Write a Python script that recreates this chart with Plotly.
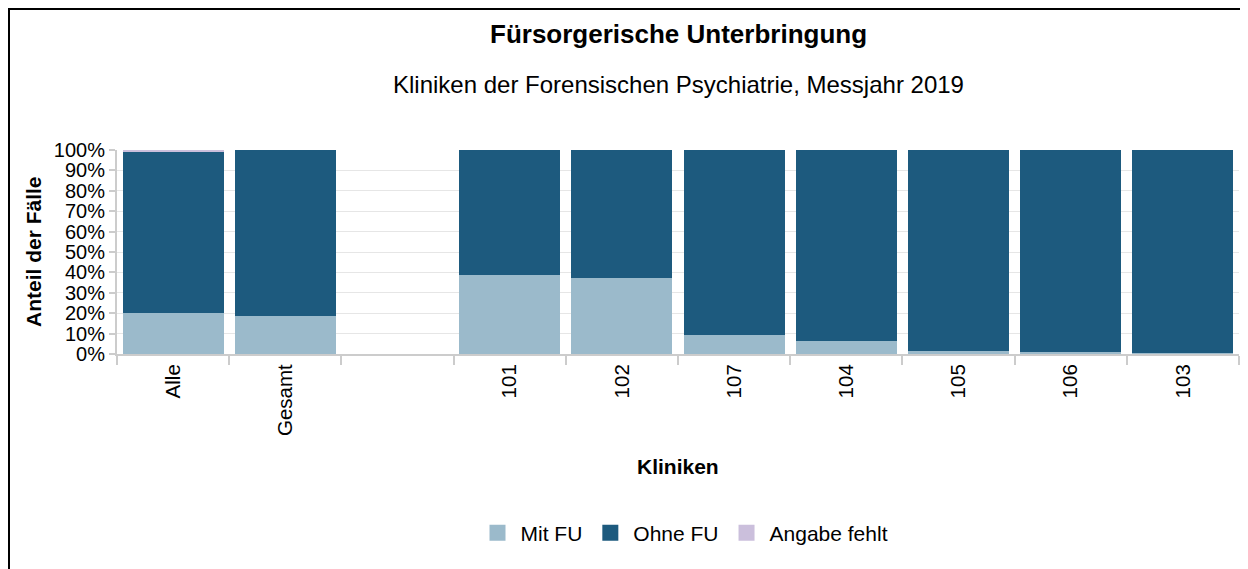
import plotly.graph_objects as go

categories = ["Alle", "Gesamt", " ", "101", "102", "107", "104", "105", "106", "103"]
mit_fu = [20.0, 18.5, 0, 38.5, 37.5, 9.5, 6.5, 1.5, 1.0, 0.3]
ohne_fu = [78.8, 81.5, 0, 61.5, 62.5, 90.5, 93.5, 98.5, 99.0, 99.7]
angabe_fehlt = [1.2, 0, 0, 0, 0, 0, 0, 0, 0, 0]
series_names = ["Mit FU", "Ohne FU", "Angabe fehlt"]
series_colors = ["#9bbacb", "#1d5a7e", "#cbbfdc"]
y_ticks = [0, 10, 20, 30, 40, 50, 60, 70, 80, 90, 100]

FONT = "Liberation Sans, Arial, sans-serif"

fig = go.Figure()
for vals, name, col in zip([mit_fu, ohne_fu, angabe_fehlt], series_names, series_colors):
    fig.add_bar(x=categories, y=vals, name=name, marker_color=col, marker_line_width=0,
                showlegend=False, legendgroup=name)
for name, col in zip(series_names, series_colors):
    fig.add_scatter(x=[None], y=[None], mode="markers", name=name, legendgroup=name,
                    marker=dict(symbol="square", size=18, color=col), showlegend=True)

# page offset (body margin) is 8px; screen coords from reference
OFF = 8
W, H = 1240, 561
L, T = 117 - OFF, 150 - OFF
R = 1248 - 1239
ph = 204
B = H - T - ph
pw = W - L - R


def py(ypix):
    return (T + ph - (ypix - OFF)) / ph


def px(xpix):
    return ((xpix - OFF) - L) / pw


fig.update_layout(
    width=W, height=H,
    barmode="stack", bargap=0.1,
    plot_bgcolor="white", paper_bgcolor="white",
    margin=dict(l=L, r=R, t=T, b=B, pad=0, autoexpand=False),
    font=dict(family=FONT, color="#000000", size=20),
    showlegend=True,
    legend=dict(orientation="h", x=px(684), xanchor="center", y=py(533), yanchor="middle",
                font=dict(size=21), traceorder="normal", itemwidth=36),
)

fig.add_annotation(text="<b>Fürsorgerische Unterbringung</b>", x=px(678), y=py(34), xref="paper", yref="paper",
                   showarrow=False, font=dict(size=26), yanchor="middle", xanchor="center")
fig.add_annotation(text="Kliniken der Forensischen Psychiatrie, Messjahr 2019", x=px(678), y=py(84), xref="paper",
                   yref="paper", showarrow=False, font=dict(size=24), yanchor="middle", xanchor="center")
fig.add_annotation(text="<b>Kliniken</b>", x=px(678), y=py(466), xref="paper", yref="paper",
                   showarrow=False, font=dict(size=21), yanchor="middle", xanchor="center")
fig.add_annotation(text="<b>Anteil der Fälle</b>", x=px(33), y=py(252), xref="paper", yref="paper",
                   showarrow=False, font=dict(size=21), yanchor="middle", xanchor="center", textangle=-90)

fig.update_xaxes(
    type="category", categoryorder="array", categoryarray=categories,
    tickangle=-90, tickfont=dict(size=20.5), automargin=False,
    showline=True, linecolor="#cccccc", linewidth=2,
    ticks="outside", tickson="boundaries", ticklen=9, tickcolor="#cccccc", tickwidth=2,
    showgrid=False,
)
fig.update_yaxes(
    range=[0, 100], tickvals=y_ticks, ticktext=[f"{v}%" for v in y_ticks], automargin=False,
    tickfont=dict(size=20), showline=True, linecolor="#cccccc", linewidth=2,
    ticks="outside", ticklen=6, tickcolor="#cccccc", tickwidth=2,
    showgrid=True, gridcolor="#e6e6e6", gridwidth=1,
    zeroline=False,
)

# border: top and left lines of the chart container
fig.add_shape(type="line", xref="paper", yref="paper", x0=px(8), x1=px(1270), y0=py(9), y1=py(9),
              line=dict(color="black", width=2))
fig.add_shape(type="line", xref="paper", yref="paper", x0=px(9), x1=px(9), y0=py(8), y1=py(600),
              line=dict(color="black", width=2))

fig.write_html("out.html")
